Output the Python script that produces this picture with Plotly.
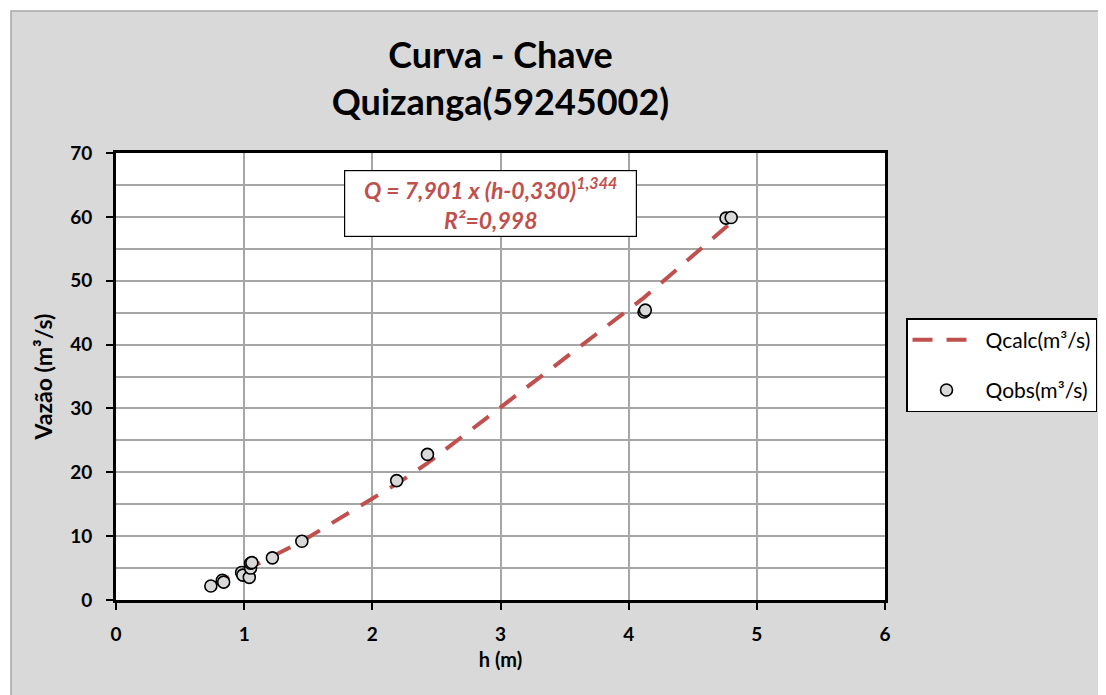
import plotly.graph_objects as go

h_obs = [0.74, 0.83, 0.84, 0.98, 0.99, 1.04, 1.05, 1.05, 1.06, 1.22, 1.45, 2.19, 2.43, 4.12, 4.13, 4.76, 4.80]
q_obs = [2.2, 3.1, 2.8, 4.3, 3.9, 3.55, 5.0, 5.75, 5.85, 6.6, 9.2, 18.7, 22.8, 45.1, 45.4, 59.8, 59.9]

# Calculated curve values
h_calc = [0.74, 0.83, 0.98, 1.05, 1.22, 1.45, 2.19, 2.43, 4.12, 4.80]
q_calc = [2.38, 3.11, 4.43, 5.08, 6.76, 9.20, 18.19, 21.42, 47.35, 59.1]

x_ticks = [0, 1, 2, 3, 4, 5, 6]
y_ticks = [0, 10, 20, 30, 40, 50, 60, 70]

FONT = "Lato"
RED = "#c0504d"

fig = go.Figure()
fig.add_trace(go.Scatter(
    x=h_calc, y=q_calc, mode="lines", name="Qcalc(m³/s)", legendgroup="a",
    line=dict(color=RED, width=4, dash="20px,14px"),
))
fig.add_trace(go.Scatter(
    x=h_obs, y=q_obs, mode="markers", name="Qobs(m³/s)", legendgroup="b",
    marker=dict(symbol="circle", size=12, color="#d9d9d9",
                line=dict(color="black", width=1.6)),
))

OFF = 8  # page body offset
W, H = 1106 - OFF, 695 - OFF
# plot area in page coords: x 116..885, y 153..600
L, R = 116 - OFF, W - (885 - OFF)
T, B = 153 - OFF, H - (600 - OFF)
pw, ph = W - L - R, H - T - B

def px(xp):
    return (xp - OFF - L) / pw

def py(yp):
    return (H - B - (yp - OFF)) / ph

fig.update_layout(
    width=W, height=H,
    margin=dict(l=L, r=R, t=T, b=B, autoexpand=False),
    paper_bgcolor="white",
    plot_bgcolor="white",
    font=dict(family=FONT, color="black"),
    title=dict(
        text="<b>Curva - Chave<br>Quizanga(59245002)</b>",
        x=0.5, xref="paper", xanchor="center",
        y=1 - (68 - OFF) / H, yanchor="middle",
        font=dict(size=36, family=FONT, color="black"),
    ),
    showlegend=True,
    legend=dict(
        x=px(906), y=py(318), xanchor="left", yanchor="top",
        xref="paper", yref="paper",
        bgcolor="white", bordercolor="black", borderwidth=1.5,
        font=dict(size=21, family=FONT),
        itemwidth=68, traceorder="grouped", tracegroupgap=20,
    ),
    shapes=[
        dict(type="rect", xref="paper", yref="paper",
             x0=px(11), x1=px(1120), y0=py(710), y1=py(11),
             fillcolor="#d9d9d9", line=dict(color="#a6a6a6", width=1.5),
             layer="below"),
        dict(type="rect", xref="paper", yref="paper",
             x0=0, x1=1, y0=0, y1=1,
             fillcolor="white", line=dict(width=0), layer="below"),
    ],
    annotations=[
        dict(
            text="<b><i>Q = 7,901 x (h-0,330)<sup>1,344</sup><br>R²=0,998</i></b>",
            xref="paper", yref="paper",
            x=(px(344) + px(637)) / 2, y=(py(170) + py(237)) / 2,
            xanchor="center", yanchor="middle",
            showarrow=False, align="center",
            font=dict(size=23, color=RED, family=FONT),
            bgcolor="white", bordercolor="black", borderwidth=1.2,
            width=289, height=63,
        ),
    ],
)

fig.update_xaxes(
    range=[0, 6], tickvals=x_ticks, ticktext=[str(v) for v in x_ticks],
    showgrid=True, gridcolor="#a6a6a6", gridwidth=1.5,
    showline=True, linecolor="black", linewidth=3, mirror=True,
    ticks="outside", ticklen=7, tickwidth=1.5, tickcolor="black",
    tickfont=dict(size=19, family=FONT, weight="bold"),
    ticklabelstandoff=8,
    title=dict(text="<b>h (m)</b>", font=dict(size=20, family=FONT), standoff=10),
    zeroline=False,
)
fig.update_yaxes(
    range=[0, 70], tickvals=y_ticks, ticktext=[str(v) for v in y_ticks],
    showgrid=True, gridcolor="#a6a6a6", gridwidth=1.5,
    minor=dict(dtick=5, showgrid=True, gridcolor="#a6a6a6", gridwidth=1.5, ticks=""),
    showline=True, linecolor="black", linewidth=3, mirror=True,
    ticks="outside", ticklen=7, tickwidth=1.5, tickcolor="black",
    tickfont=dict(size=19, family=FONT, weight="bold"),
    ticklabelstandoff=10,
    title=dict(text="<b>Vazão (m³/s)</b>", font=dict(size=23, family=FONT), standoff=12),
    zeroline=False,
)

fig.write_html("out.html")
